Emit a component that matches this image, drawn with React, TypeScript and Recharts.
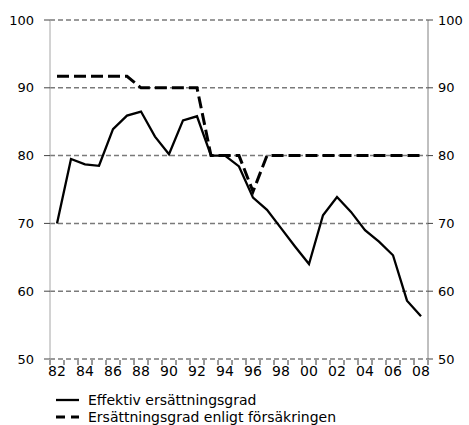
import { LineChart, Line, XAxis, YAxis, CartesianGrid } from 'recharts'

// 1982..2008
const years = [
  1982, 1983, 1984, 1985, 1986, 1987, 1988, 1989, 1990, 1991, 1992, 1993, 1994,
  1995, 1996, 1997, 1998, 1999, 2000, 2001, 2002, 2003, 2004, 2005, 2006, 2007, 2008,
]
const effektiv = [
  70, 79.5, 78.7, 78.5, 83.9, 85.9, 86.5, 82.8, 80.2, 85.2, 85.8, 80, 80,
  78.4, 73.8, 72, 69.3, 66.6, 64, 71.2, 73.9, 71.7, 69, 67.3, 65.3, 58.6, 56.3,
]
const forsakring = [
  91.7, 91.7, 91.7, 91.7, 91.7, 91.7, 90, 90, 90, 90, 90, 80, 80,
  80, 74.7, 80, 80, 80, 80, 80, 80, 80, 80, 80, 80, 80, 80,
]
const yTicks = [50, 60, 70, 80, 90, 100]
const labelYears = [1982, 1984, 1986, 1988, 1990, 1992, 1994, 1996, 1998, 2000, 2002, 2004, 2006, 2008]
const seriesNames = ['Effektiv ersättningsgrad', 'Ersättningsgrad enligt försäkringen']

const data = years.map((y, i) => ({ year: y, eff: effektiv[i], fors: forsakring[i] }))

// tick marks sit between the yearly categories
const markTicks = [years[0] - 0.5, ...years.map((y) => y + 0.5)]

const FONT = 'DejaVu Sans, Verdana, sans-serif'

const NoLabel = () => <g />

export default function App() {
  return (
    <div style={{ position: 'absolute', left: 0, top: 0, width: 469, height: 425, background: '#fff' }}>
      <LineChart
        width={469}
        height={425}
        data={data}
        margin={{ top: 20, right: 1, left: 10, bottom: 35 }}
      >
        <CartesianGrid yAxisId="left" vertical={false} stroke="#7a7a7a" strokeDasharray="5 3" strokeWidth={1.5} />
        {/* year labels: first bottom axis, kept 1px tall so the marks axis sits right under the plot */}
        <XAxis
          dataKey="year"
          type="number"
          domain={[1981.5, 2008.5]}
          ticks={labelYears}
          interval={0}
          tickFormatter={(v: number) => String(v).slice(2)}
          tick={{ fill: '#000', fontSize: 14, fontFamily: FONT }}
          tickLine={false}
          tickSize={0}
          tickMargin={7}
          axisLine={false}
          height={1}
        />
        <XAxis
          xAxisId="marks"
          dataKey="year"
          type="number"
          domain={[1981.5, 2008.5]}
          allowDataOverflow
          ticks={markTicks}
          interval={0}
          tick={<NoLabel />}
          tickSize={5}
          tickLine={{ stroke: '#333' }}
          axisLine={false}
          height={30}
        />
        <YAxis
          yAxisId="left"
          domain={[50, 100]}
          ticks={yTicks}
          width={40}
          tickSize={6}
          tickMargin={10}
          axisLine={{ stroke: '#a6a6a6' }}
          tickLine={{ stroke: '#444' }}
          tick={{ fill: '#000', fontSize: 13, fontFamily: FONT }}
        />
        <YAxis
          yAxisId="right"
          orientation="right"
          domain={[50, 100]}
          allowDataOverflow
          ticks={yTicks}
          width={40}
          tickSize={5}
          tickMargin={5}
          axisLine={{ stroke: '#808080' }}
          tickLine={{ stroke: '#444' }}
          tick={{ fill: '#000', fontSize: 13, fontFamily: FONT, textAnchor: 'start' }}
        />
        <Line
          yAxisId="left"
          dataKey="fors"
          stroke="#000"
          strokeWidth={3}
          strokeDasharray="12 5"
          dot={false}
          isAnimationActive={false}
        />
        <Line
          yAxisId="left"
          dataKey="eff"
          stroke="#000"
          strokeWidth={2.3}
          dot={false}
          isAnimationActive={false}
        />
      </LineChart>
      <div style={{ position: 'absolute', left: 56, top: 391, fontFamily: FONT, fontSize: 14, lineHeight: '16px' }}>
        <div style={{ display: 'flex', alignItems: 'center', height: 17 }}>
          <svg width={32} height={10}>
            <line x1={0} x2={23} y1={5} y2={5} stroke="#000" strokeWidth={2.3} />
          </svg>
          <span>{seriesNames[0]}</span>
        </div>
        <div style={{ display: 'flex', alignItems: 'center', height: 17 }}>
          <svg width={32} height={10}>
            <line x1={0} x2={23} y1={5} y2={5} stroke="#000" strokeWidth={3} strokeDasharray="9 6" />
          </svg>
          <span>{seriesNames[1]}</span>
        </div>
      </div>
    </div>
  )
}
